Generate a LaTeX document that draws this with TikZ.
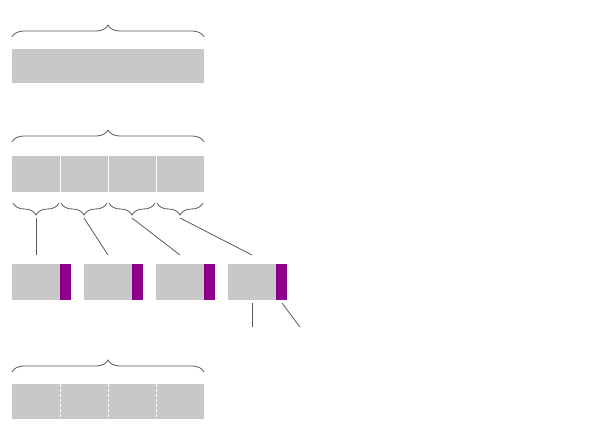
\documentclass[tikz,border=0pt]{standalone}
\usetikzlibrary{decorations.pathreplacing}
\definecolor{boxgray}{RGB}{200,200,200}
\definecolor{boxpurple}{RGB}{140,0,140}
\definecolor{linegray}{RGB}{90,90,90}
\tikzset{
  gbox/.style={draw=none,fill=boxgray,inner sep=0pt,outer sep=0pt,anchor=north west},
  pbox/.style={draw=none,fill=boxpurple,inner sep=0pt,outer sep=0pt,anchor=north west,minimum width=11pt,minimum height=36pt},
  bigbrace/.style={draw=linegray,line width=0.8pt,decorate,decoration={brace,amplitude=12pt}},
  smallbrace/.style={draw=linegray,line width=0.8pt,decorate,decoration={brace,amplitude=12pt,mirror}},
  conn/.style={draw=linegray,line width=0.8pt},
  divider/.style={draw=white,line width=1pt},
  dashdivider/.style={draw=white,line width=1pt,dash pattern=on 3pt off 2pt}
}
\begin{document}
\begin{tikzpicture}[x=1pt,y=-1pt]
\useasboundingbox (0,0) rectangle (601,445);
% top box
\node[gbox,minimum width=192pt,minimum height=34pt] (top) at (12,49) {};
\draw[bigbrace] (12,37) -- (204,37);
% second row
\node[gbox,minimum width=192pt,minimum height=36pt] (mid) at (12,156) {};
\foreach \x in {60,108,156} \draw[divider] (\x,156) -- (\x,192);
\draw[bigbrace] (12,142) -- (204,142);
\foreach \i/\a/\b in {1/13/59,2/61/107,3/109/155,4/157/203}{
  \draw[smallbrace] (\a,203) -- (\b,203) coordinate[pos=0.5] (bm\i);
}
\coordinate (t1) at (36,218);
\coordinate (t2) at (84,218);
\coordinate (t3) at (132,218);
\coordinate (t4) at (180,218);
% third row
\foreach \i/\x in {1/12,2/84,3/156,4/228}{
  \node[gbox,minimum width=48pt,minimum height=36pt] (g\i) at (\x,264) {};
  \node[pbox] (p\i) at (\x+48,264) {};
}
\coordinate (e1) at (36,255);
\coordinate (e2) at (108,255);
\coordinate (e3) at (180,255);
\coordinate (e4) at (252,255);
\foreach \i in {1,2,3,4} \draw[conn] (t\i) -- (e\i);
\coordinate (f1) at (252,303);
\coordinate (f2) at (252,327);
\coordinate (f3) at (282,303);
\coordinate (f4) at (300,327);
\draw[conn] (f1) -- (f2);
\draw[conn] (f3) -- (f4);
% bottom
\node[gbox,minimum width=192pt,minimum height=35pt] (bot) at (12,384) {};
\foreach \x in {60,108,156} \draw[dashdivider] (\x,384) -- (\x,419);
\draw[bigbrace] (12,372) -- (204,372);
\end{tikzpicture}
\end{document}
